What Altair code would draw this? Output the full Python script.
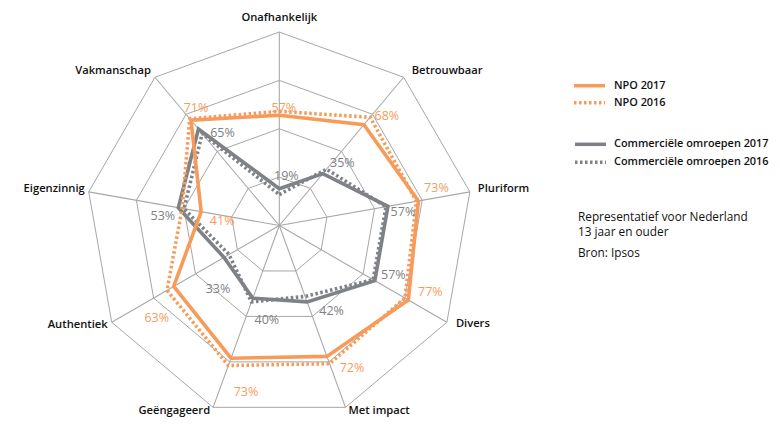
import altair as alt
import pandas as pd

# ---------------- data ----------------
categories = ["Onafhankelijk", "Betrouwbaar", "Pluriform", "Divers", "Met impact",
              "Geëngageerd", "Authentiek", "Eigenzinnig", "Vakmanschap"]
npo_2017 = [57, 68, 73, 77, 72, 73, 63, 41, 71]
npo_2016 = [59, 73, 72, 75, 76, 77, 67, 51, 72]
com_2017 = [19, 35, 57, 57, 42, 40, 33, 53, 65]
com_2016 = [16, 38, 56, 56, 39, 42, 30, 50, 62]
grid_levels = [25, 50, 75, 100]

legend_npo = ["NPO 2017", "NPO 2016"]
legend_com = ["Commerciële omroepen 2017", "Commerciële omroepen 2016"]
notes = ["Representatief voor Nederland", "13 jaar en ouder", "Bron: Ipsos"]

# ---------------- styles / layout ----------------
ORANGE = "#F79B5B"
GREY = "#7E8186"
GRID = "#9c9c9c"
FONT = "Open Sans"
DOTS = [2.5, 2.5]

W, H = 764, 409
PX = 1.935                 # pixels per percentage point
CX, CY = 271.3, 217.5      # centre of the radar, chart pixels
x_dom = [-CX / PX, (W - CX) / PX]
y_dom = [-(H - CY) / PX, CY / PX]
xs = alt.Scale(domain=x_dom, nice=False, zero=False)
ys = alt.Scale(domain=y_dom, nice=False, zero=False)

# label offsets in screen pixels (dx right, dy down)
npo_lab_dx = [4.5, 23, 18, 22, 25, 15, -17, 21, 5]
npo_lab_dy = [-7, -9, -13, -7.5, 12, 34, 32, 9, -12.5]
com_lab_dx = [7, 19.5, 15, 18.5, 24.5, 14, -6, -15.5, 24]
com_lab_dy = [-13, -11, 6, -5.5, 9.5, 22, 32, 8, 3.5]

cat_align = ["center", "left", "left", "left", "left", "right", "right", "right", "right"]
cat_dx = [0, 8, 8, 9, 3, -3, -4, -4, -4]
cat_dy = [-14, -6, -3, 2, 3.5, 3.5, 3, -3, -6]

N = len(categories)

# ---------------- tables ----------------
def series_table(name, values, ldx=None, ldy=None):
    rows = []
    for i, (c, v) in enumerate(zip(categories, values)):
        r = {"series": name, "cat": c, "idx": i, "value": v}
        if ldx is not None:
            r["ldx"] = ldx[i]
            r["ldy"] = ldy[i]
        rows.append(r)
    return pd.DataFrame(rows)

df_npo17 = series_table("NPO 2017", npo_2017, npo_lab_dx, npo_lab_dy)
df_npo16 = series_table("NPO 2016", npo_2016)
df_com17 = series_table("Com 2017", com_2017, com_lab_dx, com_lab_dy)
df_com16 = series_table("Com 2016", com_2016)

df_grid = pd.DataFrame([{"ring": g, "idx": i, "value": g}
                        for g in grid_levels for i in range(N)])
df_cats = pd.DataFrame([{"cat": c, "idx": i, "value": 100, "align": cat_align[i],
                         "ldx": cat_dx[i], "ldy": cat_dy[i]}
                        for i, c in enumerate(categories)])

theta = f"datum.idx * 2 * PI / {N}"
calc_xy = dict(
    x=f"datum.value * sin({theta})",
    y=f"datum.value * cos({theta})",
)
calc_lab = dict(
    lx=f"datum.value * sin({theta}) + datum.ldx / {PX}",
    ly=f"datum.value * cos({theta}) - datum.ldy / {PX}",
)

X = lambda f: alt.X(f, type="quantitative", scale=xs, axis=None)
Y = lambda f: alt.Y(f, type="quantitative", scale=ys, axis=None)

# grid rings
rings = alt.Chart(df_grid).transform_calculate(**calc_xy).mark_line(
    color=GRID, strokeWidth=0.9, interpolate="linear-closed"
).encode(x=X("x"), y=Y("y"), detail="ring:N", order="idx:Q")

# spokes
spokes = alt.Chart(df_cats).transform_calculate(
    x0="0", y0="0", **calc_xy
).mark_rule(color="#a8a8a8", strokeWidth=1.1).encode(
    x=X("x0"), y=Y("y0"), x2="x:Q", y2="y:Q"
)

def poly(df, color, dashed):
    kw = dict(color=color, strokeWidth=3.6, interpolate="linear-closed", strokeJoin="miter")
    if dashed:
        kw["strokeDash"] = DOTS
    return alt.Chart(df).transform_calculate(**calc_xy).mark_line(**kw).encode(
        x=X("x"), y=Y("y"), order="idx:Q"
    )

def vlabels(df, color):
    return alt.Chart(df).transform_calculate(
        txt="datum.value + '%'", **calc_lab
    ).mark_text(color=color, font=FONT, fontSize=12.5, align="center", baseline="middle").encode(
        x=X("lx"), y=Y("ly"), text="txt:N"
    )

def clabels(align):
    return alt.Chart(df_cats).transform_filter(alt.datum.align == align).transform_calculate(
        **calc_lab
    ).mark_text(color="#111111", font=FONT, fontSize=11.2, fontWeight=600,
                align=align, baseline="middle").encode(
        x=X("lx"), y=Y("ly"), text="cat:N"
    )

# ---------------- legend (layout only) ----------------
def one(text):
    return alt.Chart(pd.DataFrame({"t": [text]}))

def leg_line(color, x1, x2, y, dashed):
    kw = dict(color=color, strokeWidth=3.5)
    if dashed:
        kw["strokeDash"] = DOTS
    return one("").mark_rule(**kw).encode(x=alt.value(x1), x2=alt.value(x2), y=alt.value(y))

def leg_text(text, x, y, size=10.9, weight=600):
    return one(text).mark_text(font=FONT, fontSize=size, fontWeight=weight, color="#111111",
                               align="left", baseline="middle").encode(
        x=alt.value(x), y=alt.value(y), text="t:N")

legend_layers = [
    leg_line(ORANGE, 566, 597, 77.7, False), leg_text(legend_npo[0], 606, 77.7),
    leg_line(ORANGE, 566, 597, 94.7, True), leg_text(legend_npo[1], 606, 94.7),
    leg_line(GREY, 567, 598, 136.3, False), leg_text(legend_com[0], 606, 136.3),
    leg_line(GREY, 567, 598, 154.3, True), leg_text(legend_com[1], 606, 154.3),
    leg_text(notes[0], 570, 208.5, 11.8, 500),
    leg_text(notes[1], 570, 223.5, 11.8, 500),
    leg_text(notes[2], 570, 244.5, 11.8, 500),
]

chart = alt.layer(
    rings, spokes,
    poly(df_com16, GREY, True), poly(df_com17, GREY, False),
    poly(df_npo16, ORANGE, True), poly(df_npo17, ORANGE, False),
    vlabels(df_npo17, ORANGE), vlabels(df_com17, GREY),
    clabels("center"), clabels("left"), clabels("right"),
    *legend_layers,
).properties(
    width=W, height=H, padding=0,
    autosize=alt.AutoSizeParams(type="none"),
).configure_view(strokeWidth=0)

chart.save("out.html", embed_options={"renderer": "svg", "actions": False})
